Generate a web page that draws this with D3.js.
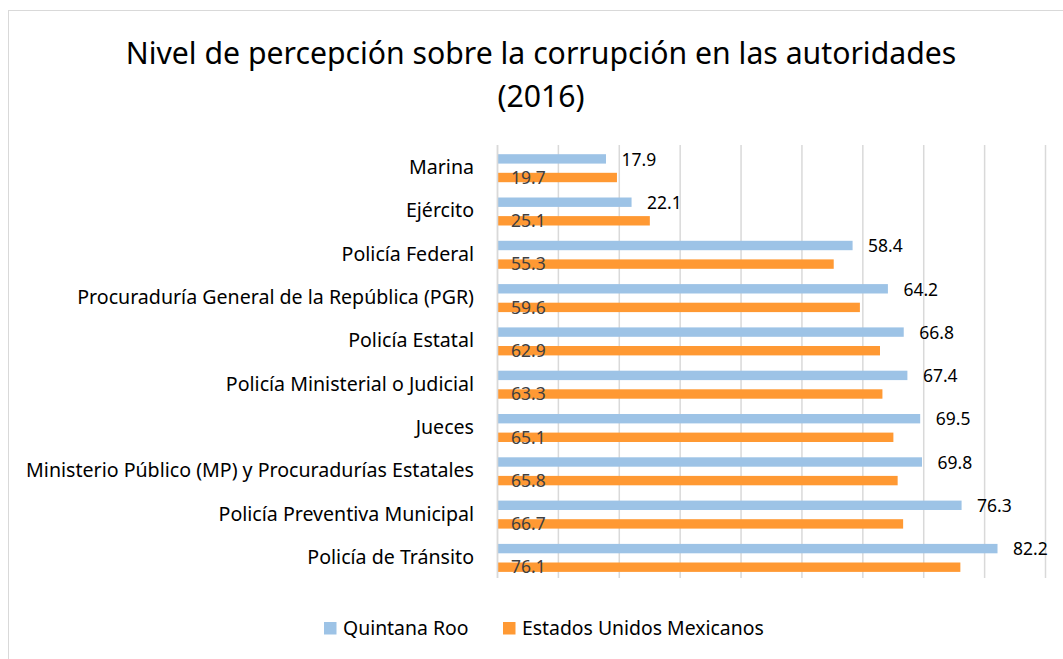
<!DOCTYPE html>
<html>
<head>
<meta charset="utf-8">
<script src="https://cdn.jsdelivr.net/npm/d3@7"></script>
<style>
  body { margin: 0; background: #fff; }
  svg { display: block; font-family: "Noto Sans", sans-serif; }
</style>
</head>
<body>
<svg id="chart" width="1063" height="659"></svg>
<script>
// data
const categories = [
  "Marina",
  "Ejército",
  "Policía Federal",
  "Procuraduría General de la República (PGR)",
  "Policía Estatal",
  "Policía Ministerial o Judicial",
  "Jueces",
  "Ministerio Público (MP) y Procuradurías Estatales",
  "Policía Preventiva Municipal",
  "Policía de Tránsito"
];
const quintanaRoo = [17.9, 22.1, 58.4, 64.2, 66.8, 67.4, 69.5, 69.8, 76.3, 82.2];
const mexico = [19.7, 25.1, 55.3, 59.6, 62.9, 63.3, 65.1, 65.8, 66.7, 76.1];
const seriesNames = ["Quintana Roo", "Estados Unidos Mexicanos"];
const xTicks = [0, 10, 20, 30, 40, 50, 60, 70, 80, 90];

const blue = "#9dc3e6", orange = "#ff9933";

const svg = d3.select("#chart");

// chart frame
svg.append("rect")
  .attr("x", 8.5).attr("y", 10.5)
  .attr("width", 1100).attr("height", 700)
  .attr("fill", "#fff")
  .attr("stroke", "#d9d9d9");

// title
const title = svg.append("text")
  .attr("x", 540)
  .attr("text-anchor", "middle")
  .style("font-size", "30.2px")
  .attr("fill", "#000");
title.append("tspan").attr("x", 541).attr("y", 64)
  .text("Nivel de percepción sobre la corrupción en las autoridades");
title.append("tspan").attr("x", 541).attr("y", 107)
  .text("(2016)");

const x = d3.scaleLinear().domain([0, 90]).range([497, 1045]);
const y = d3.scaleBand().domain(categories).range([145, 578]);

// gridlines
svg.append("g").selectAll("line")
  .data(xTicks)
  .join("line")
  .attr("x1", d => x(d) + 0.5).attr("x2", d => x(d) + 0.5)
  .attr("y1", 145).attr("y2", 578)
  .attr("stroke", "#d9d9d9")
  .attr("stroke-width", 1.5);

// category labels
svg.append("g").selectAll("text")
  .data(categories)
  .join("text")
  .attr("x", 474)
  .attr("y", d => y(d) + y.bandwidth() / 2 + 7.5)
  .attr("text-anchor", "end")
  .style("font-size", "19.6px")
  .attr("fill", "#000")
  .text(d => d);

const barH = 9.4;
const blueOff = 9.2, orangeOff = 27.8;

// Quintana Roo bars
svg.append("g").selectAll("rect")
  .data(quintanaRoo)
  .join("rect")
  .attr("x", x(0))
  .attr("y", (d, i) => y(categories[i]) + blueOff)
  .attr("width", d => x(d) - x(0))
  .attr("height", barH)
  .attr("fill", blue);

// national bars
svg.append("g").selectAll("rect")
  .data(mexico)
  .join("rect")
  .attr("x", x(0))
  .attr("y", (d, i) => y(categories[i]) + orangeOff)
  .attr("width", d => x(d) - x(0))
  .attr("height", barH)
  .attr("fill", orange);

// value labels
svg.append("g").selectAll("text")
  .data(quintanaRoo)
  .join("text")
  .attr("x", d => x(d) + 15.5)
  .attr("y", (d, i) => y(categories[i]) + blueOff + barH + 2)
  .style("font-size", "17.5px")
  .attr("fill", "#000")
  .text(d => d.toFixed(1));

svg.append("g").selectAll("text")
  .data(mexico)
  .join("text")
  .attr("x", x(0) + 14)
  .attr("y", (d, i) => y(categories[i]) + orangeOff + barH + 1.5)
  .style("font-size", "17.5px")
  .attr("fill", "#404040")
  .text(d => d.toFixed(1));

// axis line
svg.append("line")
  .attr("x1", x(0) + 0.5).attr("x2", x(0) + 0.5)
  .attr("y1", 145).attr("y2", 578)
  .attr("stroke", "#d9d9d9")
  .attr("stroke-width", 1.5);

// legend
const legendX = [324, 503];
const legend = svg.append("g").selectAll("g")
  .data(seriesNames)
  .join("g")
  .attr("transform", (d, i) => `translate(${legendX[i]},622)`);
legend.append("rect")
  .attr("width", 12.5).attr("height", 12.5)
  .attr("fill", (d, i) => i === 0 ? blue : orange);
legend.append("text")
  .attr("x", 19)
  .attr("y", 12.5)
  .style("font-size", "19.4px")
  .attr("fill", "#000")
  .text(d => d);
</script>
</body>
</html>
